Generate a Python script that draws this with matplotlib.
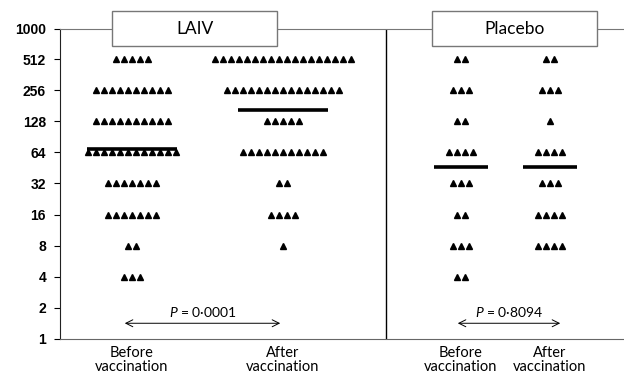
import matplotlib.pyplot as plt
import matplotlib.patches as mpatches
import numpy as np

plt.rcParams["mathtext.fontset"] = "custom"
plt.rcParams["mathtext.it"] = "Lato:italic"
plt.rcParams["mathtext.rm"] = "Lato"

titers = [512, 256, 128, 64, 32, 16, 8, 4]
laiv_before = [5, 10, 10, 12, 7, 7, 2, 3]
laiv_after = [18, 15, 5, 11, 2, 4, 1, 0]
placebo_before = [2, 3, 2, 4, 3, 2, 3, 2]
placebo_after = [2, 3, 1, 4, 3, 4, 4, 0]

groups = ["LAIV", "Placebo"]
p_values = ["0·0001", "0·8094"]
yticks = [1, 2, 4, 8, 16, 32, 64, 128, 256, 512, 1000]

columns = [laiv_before, laiv_after, placebo_before, placebo_after]
col_x = [72, 223, 401, 490]
line_half = [45, 45, 27, 27]
spacing = 8

fig = plt.figure(figsize=(6.24, 3.8), dpi=100)
ax = fig.add_axes([60 / 624, 41 / 380, 564 / 624, 310 / 380])
ax.set_yscale("log", base=2)
ax.set_ylim(1, 1000)
ax.set_xlim(0, 564)

for cx, counts, half in zip(col_x, columns, line_half):
    for t, n in zip(titers, counts):
        if n == 0:
            continue
        xs = cx + (np.arange(n) - (n - 1) / 2) * spacing
        ax.plot(xs, [t] * n, linestyle="none", marker="^", ms=3.7,
                color="black", clip_on=False)
    # geometric mean titre
    vals = np.repeat(titers, counts)
    gm = 2 ** np.mean(np.log2(vals))
    ax.plot([cx - half, cx + half], [gm, gm], color="black", lw=2.6,
            solid_capstyle="butt")

ax.axvline(326, color="black", lw=1)

ax.set_yticks(yticks)
ax.set_yticklabels([str(v) for v in yticks], fontsize=10, fontweight="bold",
                   fontfamily="Liberation Sans")
ax.minorticks_off()
ax.tick_params(axis="y", length=4, width=0.8, pad=6)

ax.set_xticks(col_x)
ax.set_xticklabels(["Before\nvaccination", "After\nvaccination"] * 2,
                   fontsize=10.5, fontfamily="Lato", linespacing=1.05)
ax.tick_params(axis="x", length=0, pad=5)

ax.spines["right"].set_visible(False)
ax.spines["top"].set_color("#777777")
ax.spines["bottom"].set_color("#666666")
ax.spines["left"].set_color("#222222")

# P value arrows
for (x0, x1), p in zip([(col_x[0] - 10, col_x[1]), (col_x[2] - 6, col_x[3] + 13)],
                       p_values):
    ax.annotate("", xy=(x0, 1.42), xytext=(x1, 1.42),
                arrowprops=dict(arrowstyle="<->,head_length=0.5,head_width=0.25",
                                color="black", lw=0.7))
    ax.text((x0 + x1) / 2, 1.55, "$P$ = " + p, ha="center", va="bottom",
            fontsize=10, fontfamily="Lato")

# group title boxes
for bx, name in zip([112, 432], groups):
    rect = mpatches.Rectangle((bx / 624, 1 - 46 / 380), 165 / 624, 35 / 380,
                              transform=fig.transFigure, facecolor="white",
                              edgecolor="#777777", lw=1, zorder=5)
    fig.add_artist(rect)
    fig.text((bx + 82.5) / 624, 1 - 28.5 / 380, name, ha="center", va="center",
             fontsize=12.5, fontfamily="Lato", zorder=6)

fig.savefig("out.png", dpi=100)
